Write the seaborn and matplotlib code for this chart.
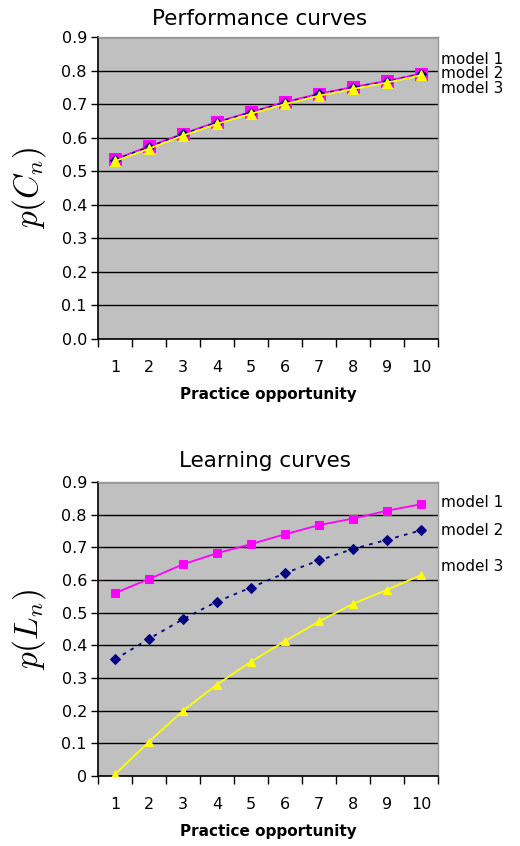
import numpy as np
import pandas as pd
import matplotlib
matplotlib.use("Agg")
import matplotlib.pyplot as plt
import seaborn as sns
from matplotlib.ticker import FixedLocator, FormatStrFormatter

sns.set_style("white")
plt.rcParams["font.family"] = ["DejaVu Sans"]
plt.rcParams["mathtext.fontset"] = "cm"
plt.rcParams["text.color"] = "black"
plt.rcParams["axes.labelcolor"] = "black"
plt.rcParams["xtick.color"] = "black"
plt.rcParams["ytick.color"] = "black"

opportunity = list(range(1, 11))
models = ["model 1", "model 2", "model 3"]

perf_model1 = [0.536, 0.574, 0.612, 0.647, 0.677, 0.706, 0.731, 0.751, 0.769, 0.791]
perf_model2 = [0.534, 0.572, 0.610, 0.645, 0.675, 0.704, 0.729, 0.749, 0.767, 0.789]
perf_model3 = [0.530, 0.567, 0.606, 0.641, 0.671, 0.700, 0.725, 0.745, 0.764, 0.786]

learn_model1 = [0.560, 0.603, 0.648, 0.682, 0.710, 0.740, 0.768, 0.788, 0.812, 0.832]
learn_model2 = [0.357, 0.420, 0.480, 0.534, 0.577, 0.621, 0.660, 0.695, 0.723, 0.752]
learn_model3 = [0.005, 0.105, 0.200, 0.280, 0.350, 0.413, 0.473, 0.527, 0.570, 0.615]

colors = {"model 1": "#FF00FF", "model 2": "#000080", "model 3": "#FFFF00"}
markers = {"model 1": "s", "model 2": "D", "model 3": "^"}
dashes = {"model 1": None, "model 2": (2, 3), "model 3": None}


def to_long(series):
    frames = []
    for name, vals in zip(models, series):
        frames.append(pd.DataFrame({"opportunity": opportunity, "p": vals, "model": name}))
    return pd.concat(frames, ignore_index=True)


W, H = 520, 846
fig = plt.figure(figsize=(W / 100, H / 100), dpi=100)


def make_axes(top_px, bottom_px, left_px=98, right_px=438):
    return fig.add_axes([left_px / W, 1 - bottom_px / H,
                         (right_px - left_px) / W, (bottom_px - top_px) / H])


def draw_panel(ax, df, title, title_x, title_pad, ylabel, fmt, msizes):
    ax.set_facecolor("#C0C0C0")
    for name in models:
        sub = df[df["model"] == name]
        sns.lineplot(data=sub, x="opportunity", y="p", ax=ax, color=colors[name],
                     marker=markers[name], markersize=msizes[name],
                     markeredgecolor=colors[name], linewidth=1.3,
                     legend=False, zorder=3)
        if dashes[name] is not None:
            ax.lines[-1].set_dashes(dashes[name])
    ax.set_xlim(0.5, 10.5)
    ax.set_ylim(0, 0.9)
    ax.yaxis.set_major_locator(FixedLocator(np.round(np.arange(0, 0.91, 0.1), 1)))
    ax.yaxis.set_major_formatter(FormatStrFormatter(fmt))
    ax.grid(axis="y", color="black", linewidth=1.0)
    ax.set_axisbelow(True)
    ax.set_xticks(opportunity)
    ax.xaxis.set_minor_locator(FixedLocator(np.arange(0.5, 11, 1)))
    ax.tick_params(axis="x", which="major", length=0, pad=15, labelsize=11.5)
    ax.tick_params(axis="x", which="minor", length=6, width=1, direction="out",
                   color="black", bottom=True)
    ax.tick_params(axis="y", length=5, width=1, direction="out", left=True,
                   color="black", labelsize=11.5, pad=3)
    for side in ["left", "bottom"]:
        ax.spines[side].set_color("black")
        ax.spines[side].set_linewidth(1.2)
    for side in ["top", "right"]:
        ax.spines[side].set_color("#9A9A9A")
        ax.spines[side].set_linewidth(1.0)
    ax.set_title(title, fontsize=15.5, x=title_x, pad=title_pad)
    ax.set_xlabel("Practice opportunity", fontsize=11, fontweight="bold", labelpad=9)
    ax.set_ylabel(ylabel, fontsize=24, labelpad=10)


ax1 = make_axes(37, 339)
draw_panel(ax1, to_long([perf_model1, perf_model2, perf_model3]),
           "Performance curves", 0.474, 9, r"$p(C_n)$", "%.1f",
           {"model 1": 8, "model 2": 5, "model 3": 6.5})
ax1.text(1.01, 0.790, "\n".join(models), transform=ax1.get_yaxis_transform(),
         fontsize=11, va="center", ha="left", linespacing=0.95, clip_on=False)

ax2 = make_axes(482, 776)
draw_panel(ax2, to_long([learn_model1, learn_model2, learn_model3]),
           "Learning curves", 0.491, 11, r"$p(L_n)$", "%g",
           {"model 1": 6, "model 2": 5, "model 3": 6})
for name, y in zip(models, [0.836, 0.753, 0.640]):
    ax2.text(1.01, y, name, transform=ax2.get_yaxis_transform(),
             fontsize=11, va="center", ha="left", clip_on=False)

fig.savefig("out.png", dpi=100)
